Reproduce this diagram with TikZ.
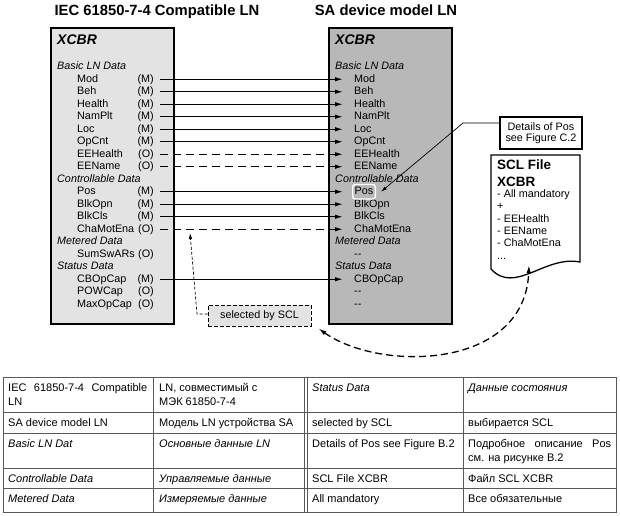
\documentclass[tikz,border=0pt]{standalone}
\usepackage{fontspec}
\setmainfont{Liberation Sans}
\usetikzlibrary{arrows.meta}
\definecolor{lfill}{gray}{0.89}
\definecolor{rfill}{gray}{0.72}
\definecolor{tabline}{gray}{0.35}
\newcommand\sizeitem{\fontsize{10.8}{12.5}\selectfont}
\newcommand\sizetitle{\fontsize{14.8}{16}\selectfont}
\newcommand\sizexcbr{\fontsize{14}{16}\selectfont}
\newcommand\sizedoc{\fontsize{13.5}{15}\selectfont}
\newcommand\sizetab{\fontsize{11}{13}\selectfont}
\begin{document}
\begin{tikzpicture}[x=1pt,y=-1pt,
  item/.style={anchor=base west, inner sep=2pt, text height=8pt, text depth=2.5pt, font=\sizeitem},
  tagnode/.style={item, anchor=base east},
  hdr/.style={anchor=base west, inner sep=0pt, font=\sizeitem\itshape},
  boxstyle/.style={draw, line width=1.5pt, anchor=north west, minimum width=123pt, minimum height=296pt, inner sep=0pt},
  conn/.style={line width=1.3pt, -{Latex[length=8pt,width=4.5pt]}},
  dconn/.style={conn, dash pattern=on 8pt off 5pt},
  tab/.style={draw=tabline, line width=0.8pt},
  tcell/.style={anchor=base west, inner sep=0pt, font=\sizetab},
  docline/.style={anchor=base west, inner sep=0pt, font=\sizeitem}]
\useasboundingbox (0,0) rectangle (620,515);

% titles
\node[anchor=base, font=\sizetitle\bfseries] (t1) at (157,15) {IEC 61850-7-4 Compatible LN};
\node[anchor=base, font=\sizetitle\bfseries] (t2) at (386,15) {SA device model LN};

% boxes
\node[boxstyle, fill=lfill] (lbox) at (50,27) {};
\node[boxstyle, fill=rfill] (rbox) at (328,27) {};

\node[anchor=base west, inner sep=0pt, font=\sizexcbr\bfseries\itshape] (lx) at (57,44) {XCBR};
\node[anchor=base west, inner sep=0pt, font=\sizexcbr\bfseries\itshape] (rx) at (335,44) {XCBR};

% headers
\foreach \i/\h in {-1/Basic LN Data, 8/Controllable Data, 13/Metered Data, 15/Status Data} {
  \node[hdr] (lh\i) at (57,{82+12.5*\i}) {\h};
  \node[hdr] (rh\i) at (335,{82+12.5*\i}) {\h};
}

% left items
\foreach \i/\n/\t in {0/Mod/M, 1/Beh/M, 2/Health/M, 3/NamPlt/M, 4/Loc/M, 5/OpCnt/M,
   6/EEHealth/O, 7/EEName/O, 9/Pos/M, 10/BlkOpn/M, 11/BlkCls/M, 12/ChaMotEna/O,
   14/SumSwARs/O, 16/CBOpCap/M, 17/POWCap/O, 18/MaxOpCap/O} {
  \node[item] (ln-\i) at (75,{82+12.5*\i}) {\n};
  \node[tagnode] (lt-\i) at (156,{82+12.5*\i}) {(\t)};
}

% right items
\foreach \i/\n in {0/Mod, 1/Beh, 2/Health, 3/NamPlt, 4/Loc, 5/OpCnt, 6/EEHealth, 7/EEName,
   10/BlkOpn, 11/BlkCls, 12/ChaMotEna, 14/-{}-, 16/CBOpCap, 17/-{}-, 18/-{}-} {
  \node[item] (rn-\i) at (352,{82+12.5*\i}) {\n};
}
\node[item, draw=white, line width=1.4pt, rounded corners=2.5pt] (rn-9) at (352,{82+12.5*9}) {Pos};

% connectors
\foreach \i in {0,1,2,3,4,5,9,10,11,16}
  \draw[conn] ([xshift=4pt]lt-\i.east) -- ([xshift=-9pt]rn-\i.west);
\foreach \i in {6,7,12}
  \draw[dconn] ([xshift=4pt]lt-\i.east) -- ([xshift=-9pt]rn-\i.west);

% details box
\node[draw, line width=1.5pt, fill=white, minimum width=82pt, minimum height=32pt,
      align=center, inner sep=1pt, font=\fontsize{10.8}{11.5}\selectfont] (det) at (541,133)
      {Details of Pos\\see Figure C.2};
\coordinate (bend) at (463,123);
\draw[line width=0.7pt, -{Latex[length=6pt,width=3.5pt]}] (det.west |- bend) -- (bend) -- ([xshift=5pt]rn-9.east);

% SCL file document
\draw[line width=1.3pt, fill=white] (491,155) -- (580,155) -- (580,262)
   .. controls (545,255) and (515,295) .. (491,269) -- cycle;
\node[anchor=base west, inner sep=0pt, font=\sizedoc\bfseries] (d0) at (497,169) {SCL File};
\node[anchor=base west, inner sep=0pt, font=\sizedoc\bfseries] (d1) at (497,186) {XCBR};
\node[docline] (dl-0) at (497,197.5) {- All mandatory};
\node[docline] (dl-1) at (497,209.8) {+};
\node[docline] (dl-2) at (497,222.1) {- EEHealth};
\node[docline] (dl-3) at (497,234.4) {- EEName};
\node[docline] (dl-4) at (497,246.7) {- ChaMotEna};
\node[docline] (dl-5) at (497,259) {.{}.{}.};
\coordinate (docb) at (529,265);

% selected by SCL
\node[draw, fill=lfill, line width=1pt, dash pattern=on 4pt off 2pt, minimum width=103pt,
      minimum height=21pt, inner sep=1pt, font=\sizeitem] (sel) at (259.5,315.5) {selected by SCL};
\coordinate (selbend) at (197,314);
\coordinate (selend) at (190,233);
\draw[line width=0.7pt, dash pattern=on 3pt off 2pt, -{Latex[length=6pt,width=3.5pt]}]
   (sel.west |- selbend) -- (selbend) -- (selend);

% big dashed curve
\draw[line width=1.3pt, dash pattern=on 7pt off 4pt,
      {Latex[length=8pt,width=4.5pt]}-{Latex[length=8pt,width=4.5pt]}]
   ([shift={(7,2)}]sel.south east) .. controls (380,372) and (525,370) .. (docb);

% table
\draw[tab] (3,377) rectangle (616,512);
\foreach \y in {412,433,468,488} \draw[tab] (3,\y) -- (616,\y);
\foreach \x in {153,304,307,463} \draw[tab] (\x,377) -- (\x,512);

\node[tcell] (c11a) at (8,391) {\makebox[139pt][s]{IEC 61850-7-4 Compatible}};
\node[tcell] (c11b) at (8,405) {LN};
\node[tcell] (c12a) at (159,391) {LN, совместимый с};
\node[tcell] (c12b) at (159,405) {МЭК 61850-7-4};
\node[tcell, font=\sizetab\itshape] (c13) at (312,391) {Status Data};
\node[tcell, font=\sizetab\itshape] (c14) at (468,391) {Данные состояния};

\node[tcell] (c21) at (8,426) {SA device model LN};
\node[tcell] (c22) at (159,426) {Модель LN устройства SA};
\node[tcell] (c23) at (312,426) {selected by SCL};
\node[tcell] (c24) at (468,426) {выбирается SCL};

\node[tcell, font=\sizetab\itshape] (c31) at (8,447) {Basic LN Dat};
\node[tcell, font=\sizetab\itshape] (c32) at (159,447) {Основные данные LN};
\node[tcell] (c33) at (312,447) {Details of Pos see Figure B.2};
\node[tcell] (c34a) at (468,447) {\makebox[143pt][s]{Подробное описание Pos}};
\node[tcell] (c34b) at (468,461) {см. на рисунке B.2};

\node[tcell, font=\sizetab\itshape] (c41) at (8,482) {Controllable Data};
\node[tcell, font=\sizetab\itshape] (c42) at (159,482) {Управляемые данные};
\node[tcell] (c43) at (312,482) {SCL File XCBR};
\node[tcell] (c44) at (468,482) {Файл SCL XCBR};

\node[tcell, font=\sizetab\itshape] (c51) at (8,502) {Metered Data};
\node[tcell, font=\sizetab\itshape] (c52) at (159,502) {Измеряемые данные};
\node[tcell] (c53) at (312,502) {All mandatory};
\node[tcell] (c54) at (468,502) {Все обязательные};
\end{tikzpicture}
\end{document}
